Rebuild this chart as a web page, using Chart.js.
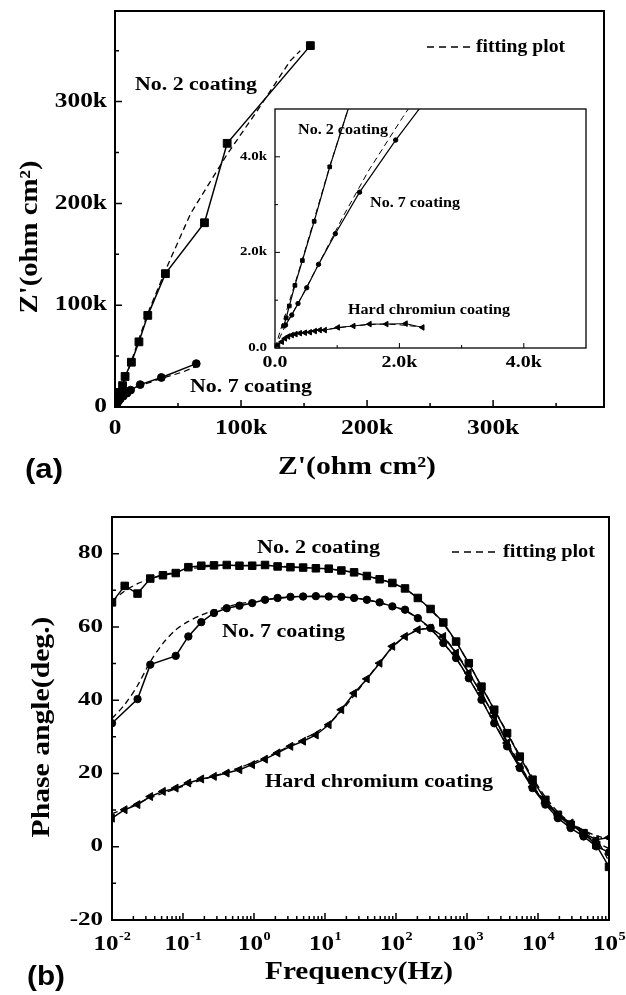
<!DOCTYPE html>
<html>
<head>
<meta charset="utf-8">
<script src="https://cdn.jsdelivr.net/npm/chart.js@4.4.1/dist/chart.umd.min.js"></script>
<style>
  html, body { margin: 0; padding: 0; background: #fff; }
  body { position: relative; width: 626px; height: 995px; overflow: hidden; }
  canvas { position: absolute; }
</style>
</head>
<body>
<canvas id="nyq" width="626" height="490" style="left:0;top:0"></canvas>
<canvas id="inset" width="400" height="285" style="left:200px;top:95px"></canvas>
<canvas id="bode" width="626" height="505" style="left:0;top:490px"></canvas>
<script>
"use strict";

// (a) Nyquist data, ohm cm2
const no2Re = [140, 180, 230, 320, 440, 630, 880, 1250, 1800, 2600, 3700, 6000, 8000, 13000, 19000, 26000, 40000, 71000, 89000, 155000];
const no2Im = [460, 630, 880, 1310, 1830, 2650, 3790, 5300, 7400, 10200, 14300, 21000, 30000, 44000, 64000, 90000, 131000, 181000, 259000, 355000];
const no2FitRe = [0, 440, 880, 1250, 6000, 13000, 26000, 41000, 60000, 88600, 115000, 139000, 147000];
const no2FitIm = [0, 1850, 3800, 5300, 21000, 45000, 92000, 137000, 190000, 247500, 295000, 340000, 350000];

const no7Re = [170, 270, 370, 510, 700, 970, 1360, 1940, 2900, 4200, 6500, 9500, 12400, 20000, 36800, 64500];
const no7Im = [480, 690, 930, 1260, 1750, 2390, 3260, 4350, 6000, 8000, 10600, 13600, 16600, 22000, 29000, 42600];
const no7FitRe = [0, 170, 370, 700, 1090, 1500, 2050, 2400, 4300, 6500, 9500, 12400, 20000, 36800, 54000, 64500];
const no7FitIm = [0, 480, 930, 1750, 2740, 3700, 4820, 5500, 8500, 11000, 13600, 16600, 21000, 28000, 34500, 40000];

const crRe = [50, 110, 160, 210, 270, 330, 400, 480, 560, 640, 720, 800, 1010, 1260, 1520, 1790, 2100, 2370];
const crIm = [60, 130, 200, 240, 270, 290, 310, 320, 330, 354, 375, 375, 430, 460, 500, 500, 510, 430];
const crFitRe = [0, 160, 400, 800, 1260, 1790, 2370];
const crFitIm = [0, 200, 310, 380, 460, 500, 440];

const nyqMajor = [0, 100000, 200000, 300000];
const nyqMinor = [50000, 150000, 250000, 350000];
const insetMajor = [0, 2000, 4000];
const insetMinor = [1000, 3000];

// (b) Bode phase data
const freqHz = [0.01, 0.0151, 0.0229, 0.0346, 0.0522, 0.079, 0.119, 0.181, 0.273, 0.413,
  0.624, 0.943, 1.43, 2.15, 3.26, 4.92, 7.44, 11.3, 17.0, 25.7,
  38.9, 58.8, 88.9, 134, 203, 307, 464, 702, 1060, 1600,
  2420, 3670, 5540, 8380, 12700, 19100, 28900, 43800, 66100, 100000];
const no2Phase = [66.7, 71.2, 69.1, 73.2, 74.1, 74.7, 76.3, 76.7, 76.8, 76.9,
  76.7, 76.7, 76.9, 76.5, 76.3, 76.2, 76.0, 75.9, 75.4, 74.9,
  73.9, 73.0, 72.0, 70.5, 67.9, 64.9, 61.2, 56.0, 50.1, 43.7,
  37.4, 31.0, 24.6, 18.3, 12.8, 8.7, 6.0, 3.7, 0.5, -5.5];
const no2PhaseFit = [67.0, 69.8, 71.8, 73.2, 74.2, 75.0, 75.8, 76.3, 76.6, 76.8,
  76.8, 76.8, 76.8, 76.6, 76.4, 76.2, 76.0, 75.8, 75.4, 74.8,
  73.9, 73.0, 71.9, 70.3, 67.8, 64.7, 60.8, 55.8, 50.0, 43.8,
  37.5, 31.2, 24.9, 18.9, 13.6, 9.5, 6.6, 4.4, 2.0, -4.0];
const no7Phase = [33.7, null, 40.3, 49.7, null, 52.1, 57.4, 61.3, 63.8, 65.1,
  65.8, 66.5, 67.4, 67.9, 68.2, 68.3, 68.4, 68.3, 68.2, 67.9,
  67.4, 66.7, 65.6, 64.7, 62.4, 59.7, 55.6, 51.5, 46.0, 40.1,
  33.7, 27.4, 21.5, 16.0, 11.5, 7.8, 5.1, 2.8, 0.1, -1.5];
const no7PhaseFit = [35.0, 38.8, 44.0, 50.5, 55.5, 59.2, 61.5, 63.2, 64.5, 65.5,
  66.3, 66.9, 67.4, 67.8, 68.1, 68.3, 68.3, 68.3, 68.2, 67.9,
  67.4, 66.6, 65.5, 64.4, 62.3, 59.4, 55.6, 51.3, 45.9, 40.2,
  33.9, 27.7, 21.9, 16.6, 12.1, 8.5, 5.8, 3.6, 1.2, -0.5];
const crPhase = [7.8, 10.1, 11.5, 13.7, 15.1, 16.0, 17.4, 18.5, 19.2, 20.1,
  21.0, 22.4, 23.9, 25.6, 27.4, 28.8, 30.5, 33.3, 37.4, 41.9,
  45.8, 50.1, 54.7, 57.4, 59.2, 59.7, 57.4, 52.9, 47.4, 41.9,
  35.6, 28.3, 21.9, 16.4, 11.9, 8.7, 6.5, 3.7, 1.9, 2.5];
const crPhaseFit = [9.0, 10.3, 11.8, 13.3, 14.6, 15.8, 17.0, 18.2, 19.3, 20.4,
  21.6, 22.9, 24.3, 25.9, 27.6, 29.4, 31.2, 33.6, 37.0, 41.3,
  45.8, 50.3, 54.3, 57.4, 59.2, 59.4, 57.3, 53.0, 47.6, 41.7,
  35.5, 28.8, 22.4, 16.8, 12.3, 9.0, 6.5, 4.5, 3.0, 2.0];

const decades = [0.01, 0.1, 1, 10, 100, 1000, 10000, 100000];
const decadeExp = ['-2', '-1', '0', '1', '2', '3', '4', '5'];
const phaseMajor = [-20, 0, 20, 40, 60, 80];
const phaseMinor = [-10, 10, 30, 50, 70];

const SERIF = '"Liberation Serif", "Times New Roman", serif';
const SANS = '"Liberation Sans", Arial, sans-serif';

function pairs(xs, ys) {
  return xs.map((x, i) => ({ x: x, y: ys[i] }));
}

function putText(ctx, str, x, y, o) {
  ctx.save();
  ctx.font = 'bold ' + o.size + 'px ' + (o.family || SERIF);
  ctx.fillStyle = '#000';
  ctx.textBaseline = 'middle';
  ctx.textAlign = 'left';
  const w = ctx.measureText(str).width;
  const sx = o.width ? o.width / w : (o.sx || 1);
  const full = w * sx;
  ctx.translate(x, y);
  if (o.rotate) ctx.rotate(o.rotate);
  const start = o.align === 'center' ? -full / 2 : (o.align === 'right' ? -full : 0);
  ctx.translate(start, 0);
  ctx.scale(sx, 1);
  ctx.fillText(str, 0, 0);
  ctx.restore();
}

function dashKey(ctx, x1, x2, y) {
  ctx.save();
  ctx.strokeStyle = '#000';
  ctx.lineWidth = 1.5;
  ctx.setLineDash([7, 5]);
  ctx.beginPath();
  ctx.moveTo(x1, y);
  ctx.lineTo(x2, y);
  ctx.stroke();
  ctx.restore();
}

// ticks inward, box, labels; spec.draw gets page coordinates
function frame(spec) {
  return {
    id: 'frame',
    beforeDatasetsDraw(chart) {
      if (!spec.fill) return;
      const a = chart.chartArea, ctx = chart.ctx;
      ctx.save();
      ctx.fillStyle = '#fff';
      ctx.fillRect(a.left, a.top, a.right - a.left, a.bottom - a.top);
      ctx.restore();
    },
    afterDatasetsDraw(chart) {
      const ctx = chart.ctx, a = chart.chartArea;
      const xs = chart.scales.x, ys = chart.scales.y;
      ctx.save();
      ctx.strokeStyle = '#000';
      ctx.lineWidth = spec.tickWidth;
      ctx.beginPath();
      const tx = (list, len) => list.forEach(v => {
        const p = xs.getPixelForValue(v);
        ctx.moveTo(p, a.bottom); ctx.lineTo(p, a.bottom - len);
      });
      const ty = (list, len) => list.forEach(v => {
        const p = ys.getPixelForValue(v);
        ctx.moveTo(a.left, p); ctx.lineTo(a.left + len, p);
      });
      tx(spec.xMajor, spec.major); tx(spec.xMinor, spec.minor);
      ty(spec.yMajor, spec.major); ty(spec.yMinor, spec.minor);
      ctx.stroke();
      ctx.lineWidth = spec.border;
      ctx.strokeRect(a.left, a.top, a.right - a.left, a.bottom - a.top);

      ctx.translate(-spec.ox, -spec.oy);
      spec.xMajor.forEach((v, i) => spec.xLabel(ctx, xs.getPixelForValue(v) + spec.ox, v, i));
      spec.yMajor.forEach((v, i) => spec.yLabel(ctx, ys.getPixelForValue(v) + spec.oy, v, i));
      spec.draw(ctx);
      ctx.restore();
    }
  };
}

function lineSet(data, style, radius, extra) {
  return Object.assign({
    data: data,
    borderColor: '#000',
    backgroundColor: '#000',
    borderWidth: 1.5,
    pointStyle: style,
    pointRadius: radius,
    pointBackgroundColor: '#000',
    pointBorderColor: '#000',
    pointBorderWidth: 1,
    tension: 0,
    spanGaps: true
  }, extra || {});
}

function fitSet(data, extra) {
  return Object.assign({
    data: data,
    borderColor: '#000',
    borderWidth: 1.3,
    borderDash: [6, 4],
    pointRadius: 0,
    tension: 0.3,
    spanGaps: true
  }, extra || {});
}

function baseOptions(padding, xScale, yScale) {
  return {
    responsive: false,
    animation: false,
    devicePixelRatio: 1,
    layout: { padding: padding },
    plugins: { legend: { display: false }, tooltip: { enabled: false } },
    scales: { x: xScale, y: yScale }
  };
}

const kLabel = v => v === 0 ? '0' : (v / 1000) + 'k';
const insetLabel = v => v === 0 ? '0.0' : (v / 1000).toFixed(1) + 'k';

// (a) main Nyquist plot
new Chart(document.getElementById('nyq'), {
  type: 'line',
  data: {
    datasets: [
      lineSet(pairs(no2Re, no2Im), 'rect', 5.5),
      lineSet(pairs(no7Re, no7Im), 'circle', 3.9),
      lineSet(pairs(crRe, crIm), 'triangle', 3, { pointRotation: 270 }),
      fitSet(pairs(no2FitRe, no2FitIm), { tension: 0 }),
      fitSet(pairs(no7FitRe, no7FitIm), { tension: 0 })
    ]
  },
  options: baseOptions({ left: 115, top: 11, right: 22, bottom: 83 },
    { type: 'linear', min: 0, max: 388000, display: false },
    { type: 'linear', min: 0, max: 389000, display: false }),
  plugins: [frame({
    ox: 0, oy: 0, border: 2, tickWidth: 1.5, major: 7, minor: 4,
    xMajor: nyqMajor, xMinor: nyqMinor, yMajor: nyqMajor, yMinor: nyqMinor,
    xLabel: (ctx, x, v) => putText(ctx, kLabel(v), x, 429, { size: 20, sx: 1.27, align: 'center' }),
    yLabel: (ctx, y, v) => putText(ctx, kLabel(v), 107, y, { size: 20, sx: 1.27, align: 'right' }),
    draw(ctx) {
      putText(ctx, "Z'(ohm cm\u00b2)", 357, 468, { size: 25, width: 158, align: 'center' });
      putText(ctx, "Z'(ohm cm\u00b2)", 31, 237, { size: 25, width: 153, align: 'center', rotate: -Math.PI / 2 });
      putText(ctx, '(a)', 25, 470, { size: 28, family: SANS, width: 38 });
      putText(ctx, 'No. 2 coating', 135, 85, { size: 18, width: 122 });
      putText(ctx, 'No. 7 coating', 190, 387, { size: 18, width: 122 });
      dashKey(ctx, 427, 472, 47);
      putText(ctx, 'fitting plot', 476, 47, { size: 18, width: 89 });
    }
  })]
});

// (a) inset, zoomed near origin
new Chart(document.getElementById('inset'), {
  type: 'line',
  data: {
    datasets: [
      lineSet(pairs(no2Re, no2Im), 'rect', 2.6, { borderWidth: 1.2, clip: 0 }),
      lineSet(pairs(no7Re, no7Im), 'circle', 2.2, { borderWidth: 1.2, clip: 0 }),
      lineSet(pairs(crRe, crIm), 'triangle', 3.2, { borderWidth: 1, pointRotation: 270, clip: 0 }),
      fitSet(pairs(no2FitRe, no2FitIm), { tension: 0, borderWidth: 1, clip: 0 }),
      fitSet(pairs(no7FitRe, no7FitIm), { tension: 0, borderWidth: 1, clip: 0 }),
      fitSet(pairs(crFitRe, crFitIm), { tension: 0.3, borderWidth: 1, clip: 0 })
    ]
  },
  options: baseOptions({ left: 75, top: 14, right: 14, bottom: 32 },
    { type: 'linear', min: 0, max: 5000, display: false },
    { type: 'linear', min: 0, max: 5000, display: false }),
  plugins: [frame({
    ox: 200, oy: 95, fill: true, border: 1.3, tickWidth: 1, major: 5, minor: 3,
    xMajor: insetMajor, xMinor: insetMinor, yMajor: insetMajor, yMinor: insetMinor,
    xLabel: (ctx, x, v) => putText(ctx, insetLabel(v), x, 363, { size: 17, sx: 1.17, align: 'center' }),
    yLabel: (ctx, y, v) => putText(ctx, insetLabel(v), 267, y, { size: 11.5, sx: 1.3, align: 'right' }),
    draw(ctx) {
      putText(ctx, 'No. 2 coating', 298, 130, { size: 14, width: 90 });
      putText(ctx, 'No. 7 coating', 370, 203, { size: 14, width: 90 });
      putText(ctx, 'Hard chromiun coating', 348, 310, { size: 14, width: 162 });
    }
  })]
});

// (b) Bode phase plot
const decadeMinor = [];
decades.slice(0, -1).forEach(d => { for (let m = 2; m <= 9; m++) decadeMinor.push(d * m); });

new Chart(document.getElementById('bode'), {
  type: 'line',
  data: {
    datasets: [
      lineSet(pairs(freqHz, no2Phase), 'rect', 5.3),
      lineSet(pairs(freqHz, no7Phase), 'circle', 3.7),
      lineSet(pairs(freqHz, crPhase), 'triangle', 4.6, { pointRotation: 270 }),
      fitSet(pairs(freqHz, no2PhaseFit)),
      fitSet(pairs(freqHz, no7PhaseFit)),
      fitSet(pairs(freqHz, crPhaseFit))
    ]
  },
  options: baseOptions({ left: 112, top: 27, right: 17, bottom: 75 },
    { type: 'logarithmic', min: 0.01, max: 100000, display: false },
    { type: 'linear', min: -20, max: 90, display: false }),
  plugins: [frame({
    ox: 0, oy: 490, border: 2, tickWidth: 1.5, major: 7, minor: 4,
    xMajor: decades, xMinor: decadeMinor, yMajor: phaseMajor, yMinor: phaseMinor,
    xLabel: (ctx, x, v, i) => {
      ctx.save();
      ctx.font = 'bold 22px ' + SERIF;
      const wb = ctx.measureText('10').width * 1.14;
      ctx.font = 'bold 13px ' + SERIF;
      const we = ctx.measureText(decadeExp[i]).width * 1.1;
      ctx.restore();
      const start = x - (wb + we) / 2;
      putText(ctx, '10', start, 944, { size: 22, sx: 1.14 });
      putText(ctx, decadeExp[i], start + wb + 0.5, 937, { size: 13, sx: 1.1 });
    },
    yLabel: (ctx, y, v) => putText(ctx, String(v), 103, y, { size: 18, sx: 1.39, align: 'right' }),
    draw(ctx) {
      putText(ctx, 'Frequency(Hz)', 359, 973, { size: 25, width: 188, align: 'center' });
      putText(ctx, 'Phase angle(deg.)', 43, 727, { size: 25, width: 221, align: 'center', rotate: -Math.PI / 2 });
      putText(ctx, '(b)', 27, 977, { size: 28, family: SANS, width: 38 });
      putText(ctx, 'No. 2 coating', 257, 548, { size: 18, width: 123 });
      putText(ctx, 'No. 7 coating', 222, 632, { size: 18, width: 123 });
      putText(ctx, 'Hard chromium coating', 265, 782, { size: 18, width: 228 });
      dashKey(ctx, 452, 500, 552);
      putText(ctx, 'fitting plot', 503, 552, { size: 18, width: 92 });
    }
  })]
});
</script>
</body>
</html>
